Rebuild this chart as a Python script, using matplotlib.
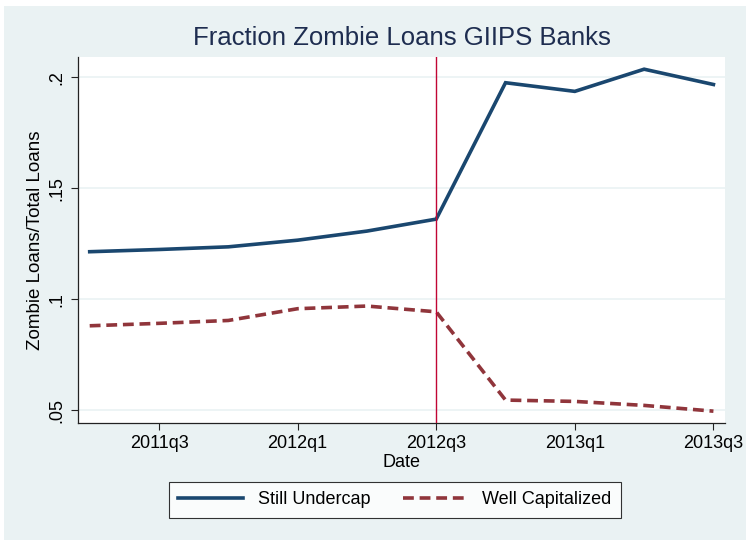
import matplotlib
matplotlib.use('Agg')
import matplotlib.pyplot as plt
from matplotlib.patches import Rectangle
import numpy as np

# quarters 2011q2 .. 2013q3
quarters = ['2011q2', '2011q3', '2011q4', '2012q1', '2012q2',
            '2012q3', '2012q4', '2013q1', '2013q2', '2013q3']
still_undercap = [0.1214, 0.1224, 0.1236, 0.1266, 0.1307,
                  0.1361, 0.1976, 0.1937, 0.2037, 0.1968]
well_capitalized = [0.0880, 0.0891, 0.0904, 0.0957, 0.0969,
                    0.0943, 0.0545, 0.0539, 0.0521, 0.0495]

xtick_labels = ['2011q3', '2012q1', '2012q3', '2013q1', '2013q3']
ytick_vals = [0.05, 0.10, 0.15, 0.20]
ytick_labels = ['.05', '.1', '.15', '.2']
event_q = '2012q3'

bg = '#EAF2F3'
navy = '#1A476F'
maroon = '#90353B'

plt.rcParams['font.family'] = ['Liberation Sans', 'DejaVu Sans']

fig = plt.figure(figsize=(7.46, 5.4), dpi=100, facecolor='white')
# stata-like graph region (small white margin top/left)
fig.patches.append(Rectangle((4 / 746, 0), 1, 1 - 6 / 540, transform=fig.transFigure,
                             facecolor=bg, edgecolor='none', zorder=-10))

ax = fig.add_axes([78 / 746, 1 - 422.7 / 540, (725 - 78) / 746, (422.7 - 57) / 540])
ax.set_facecolor('white')

x = np.arange(len(quarters))
ax.plot(x, still_undercap, color=navy, lw=2.6, solid_joinstyle='miter',
        label='Still Undercap', zorder=3)
ax.plot(x, well_capitalized, color=maroon, lw=2.6, dashes=(3.0, 1.6),
        label='Well Capitalized', zorder=3)
ax.axvline(quarters.index(event_q), color='#C10534', lw=1.0, zorder=4)

ax.set_xlim(-0.169, 9.167)
ax.set_ylim(0.0443, 0.2092)

ax.set_xticks([quarters.index(q) for q in xtick_labels])
ax.set_xticklabels(xtick_labels, fontsize=13)
ax.set_yticks(ytick_vals)
ax.set_yticklabels(ytick_labels, fontsize=13, rotation=90, va='center')
ax.tick_params(direction='out', length=5, width=0.8, color='#222222', pad=4)
ax.grid(axis='y', color=bg, lw=1.2, zorder=0)
ax.set_axisbelow(True)

for s in ['top', 'right']:
    ax.spines[s].set_visible(False)
for s in ['left', 'bottom']:
    ax.spines[s].set_linewidth(0.9)
    ax.spines[s].set_color('#222222')

ax.set_xlabel('Date', fontsize=13, labelpad=1)
ax.set_ylabel('Zombie Loans/Total Loans', fontsize=13.5, labelpad=3)

fig.text(401.5 / 746, 1 - 38 / 540, 'Fraction Zombie Loans GIIPS Banks',
         ha='center', va='center', fontsize=18.5, color='#1E2D50')

leg = fig.legend(loc='center', bbox_to_anchor=(395 / 746, 1 - 500 / 540), ncol=2,
                 fontsize=13, frameon=True, fancybox=False, handlelength=3.6,
                 columnspacing=1.8, borderpad=0.5)
leg.get_frame().set_edgecolor('black')
leg.get_frame().set_linewidth(0.8)

fig.savefig('out.png', dpi=100, facecolor=fig.get_facecolor())
